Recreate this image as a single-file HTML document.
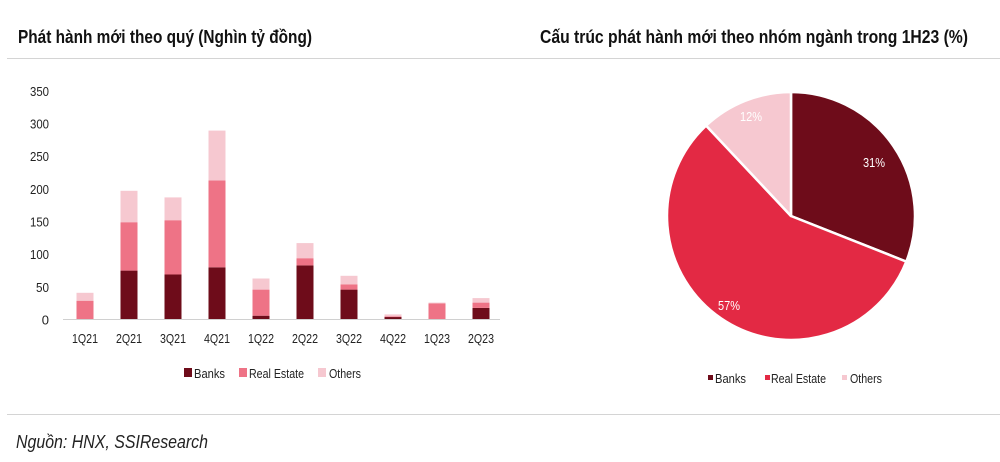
<!DOCTYPE html>
<html><head><meta charset="utf-8"><style>
html,body{margin:0;padding:0;background:#fff;}
svg{display:block;font-family:"Liberation Sans Narrow","Liberation Sans",sans-serif;}
</style></head><body>
<svg width="1000" height="462" viewBox="0 0 1000 462" xmlns="http://www.w3.org/2000/svg">
<text x="18" y="43" font-size="18" font-weight="bold" fill="#111" textLength="294" lengthAdjust="spacingAndGlyphs">Phát hành mới theo quý (Nghìn tỷ đồng)</text>
<text x="540" y="43" font-size="18" font-weight="bold" fill="#111" textLength="428" lengthAdjust="spacingAndGlyphs">Cấu trúc phát hành mới theo nhóm ngành trong 1H23 (%)</text>
<line x1="7" y1="58.5" x2="1000" y2="58.5" stroke="#d4d4d4" stroke-width="1"/>
<line x1="7" y1="414.5" x2="1000" y2="414.5" stroke="#d4d4d4" stroke-width="1"/>
<g font-size="13" fill="#222" text-anchor="end">
<text x="49" y="96" textLength="19" lengthAdjust="spacingAndGlyphs">350</text><text x="49" y="128.5" textLength="19" lengthAdjust="spacingAndGlyphs">300</text><text x="49" y="161" textLength="19" lengthAdjust="spacingAndGlyphs">250</text><text x="49" y="194" textLength="19" lengthAdjust="spacingAndGlyphs">200</text><text x="49" y="226.5" textLength="19" lengthAdjust="spacingAndGlyphs">150</text><text x="49" y="259" textLength="19" lengthAdjust="spacingAndGlyphs">100</text><text x="49" y="292" textLength="13" lengthAdjust="spacingAndGlyphs">50</text><text x="49" y="324.5">0</text>
</g>
<line x1="63" y1="319.5" x2="500" y2="319.5" stroke="#d0d0d0" stroke-width="1"/>
<g font-size="13" fill="#222">
<text x="72" y="343" textLength="26" lengthAdjust="spacingAndGlyphs">1Q21</text><text x="116" y="343" textLength="26" lengthAdjust="spacingAndGlyphs">2Q21</text><text x="160" y="343" textLength="26" lengthAdjust="spacingAndGlyphs">3Q21</text><text x="204" y="343" textLength="26" lengthAdjust="spacingAndGlyphs">4Q21</text><text x="248" y="343" textLength="26" lengthAdjust="spacingAndGlyphs">1Q22</text><text x="292" y="343" textLength="26" lengthAdjust="spacingAndGlyphs">2Q22</text><text x="336" y="343" textLength="26" lengthAdjust="spacingAndGlyphs">3Q22</text><text x="380" y="343" textLength="26" lengthAdjust="spacingAndGlyphs">4Q22</text><text x="424" y="343" textLength="26" lengthAdjust="spacingAndGlyphs">1Q23</text><text x="468" y="343" textLength="26" lengthAdjust="spacingAndGlyphs">2Q23</text>
</g>
<g>
<rect x="76.5" y="300.7" width="17" height="18.3" fill="#ee7386"/><rect x="76.5" y="292.8" width="17" height="7.9" fill="#f6c8d0"/>
<rect x="120.5" y="270.6" width="17" height="48.4" fill="#6e0c1a"/><rect x="120.5" y="222.2" width="17" height="48.4" fill="#ee7386"/><rect x="120.5" y="190.8" width="17" height="31.4" fill="#f6c8d0"/>
<rect x="164.5" y="274.5" width="17" height="44.5" fill="#6e0c1a"/><rect x="164.5" y="220.2" width="17" height="54.3" fill="#ee7386"/><rect x="164.5" y="197.4" width="17" height="22.8" fill="#f6c8d0"/>
<rect x="208.5" y="267.3" width="17" height="51.7" fill="#6e0c1a"/><rect x="208.5" y="180.4" width="17" height="86.9" fill="#ee7386"/><rect x="208.5" y="130.6" width="17" height="49.8" fill="#f6c8d0"/>
<rect x="252.5" y="315.7" width="17" height="3.3" fill="#6e0c1a"/><rect x="252.5" y="289.6" width="17" height="26.1" fill="#ee7386"/><rect x="252.5" y="278.5" width="17" height="11.1" fill="#f6c8d0"/>
<rect x="296.5" y="265.4" width="17" height="53.6" fill="#6e0c1a"/><rect x="296.5" y="258.2" width="17" height="7.2" fill="#ee7386"/><rect x="296.5" y="243.1" width="17" height="15.1" fill="#f6c8d0"/>
<rect x="340.5" y="289.6" width="17" height="29.4" fill="#6e0c1a"/><rect x="340.5" y="284.3" width="17" height="5.3" fill="#ee7386"/><rect x="340.5" y="275.8" width="17" height="8.5" fill="#f6c8d0"/>
<rect x="384.5" y="317" width="17" height="2" fill="#6e0c1a"/><rect x="384.5" y="316.4" width="17" height="0.7" fill="#ee7386"/><rect x="384.5" y="314.4" width="17" height="2" fill="#f6c8d0"/>
<rect x="428.5" y="303.3" width="17" height="15.7" fill="#ee7386"/><rect x="428.5" y="302.6" width="17" height="0.7" fill="#f6c8d0"/>
<rect x="472.5" y="307.9" width="17" height="11.1" fill="#6e0c1a"/><rect x="472.5" y="302.6" width="17" height="5.3" fill="#ee7386"/><rect x="472.5" y="298.1" width="17" height="4.5" fill="#f6c8d0"/>
</g>
<g font-size="13" fill="#222">
<rect x="184" y="368" width="8" height="9" fill="#6e0c1a"/><text x="194" y="378" textLength="31" lengthAdjust="spacingAndGlyphs">Banks</text>
<rect x="239" y="368" width="8" height="9" fill="#ee7386"/><text x="249" y="378" textLength="55" lengthAdjust="spacingAndGlyphs">Real Estate</text>
<rect x="318" y="368" width="8" height="9" fill="#f6c8d0"/><text x="329" y="378" textLength="32" lengthAdjust="spacingAndGlyphs">Others</text>
</g>
<g stroke="#fff" stroke-width="2.5" stroke-linejoin="round">
<path d="M791,216 L791,92 A124,124 0 0 1 906.3,261.6 Z" fill="#6e0c1a"/>
<path d="M791,216 L906.3,261.6 A124,124 0 1 1 706.1,125.6 Z" fill="#e32944"/>
<path d="M791,216 L706.1,125.6 A124,124 0 0 1 791,92 Z" fill="#f6c8d0"/>
</g>
<g font-size="12.5" fill="#fff">
<text x="863" y="167" textLength="22" lengthAdjust="spacingAndGlyphs">31%</text><text x="718" y="310" textLength="22" lengthAdjust="spacingAndGlyphs">57%</text><text x="740" y="121" textLength="22" lengthAdjust="spacingAndGlyphs">12%</text>
</g>
<g font-size="13" fill="#222">
<rect x="708" y="375" width="5" height="5" fill="#6e0c1a"/><text x="715" y="383" textLength="31" lengthAdjust="spacingAndGlyphs">Banks</text>
<rect x="765" y="375" width="5" height="5" fill="#e32944"/><text x="771" y="383" textLength="55" lengthAdjust="spacingAndGlyphs">Real Estate</text>
<rect x="842" y="375" width="5" height="5" fill="#f6c8d0"/><text x="850" y="383" textLength="32" lengthAdjust="spacingAndGlyphs">Others</text>
</g>
<text x="16" y="448" font-size="18" font-style="italic" fill="#222" textLength="192" lengthAdjust="spacingAndGlyphs">Nguồn: HNX, SSIResearch</text>
</svg>
</body></html>
